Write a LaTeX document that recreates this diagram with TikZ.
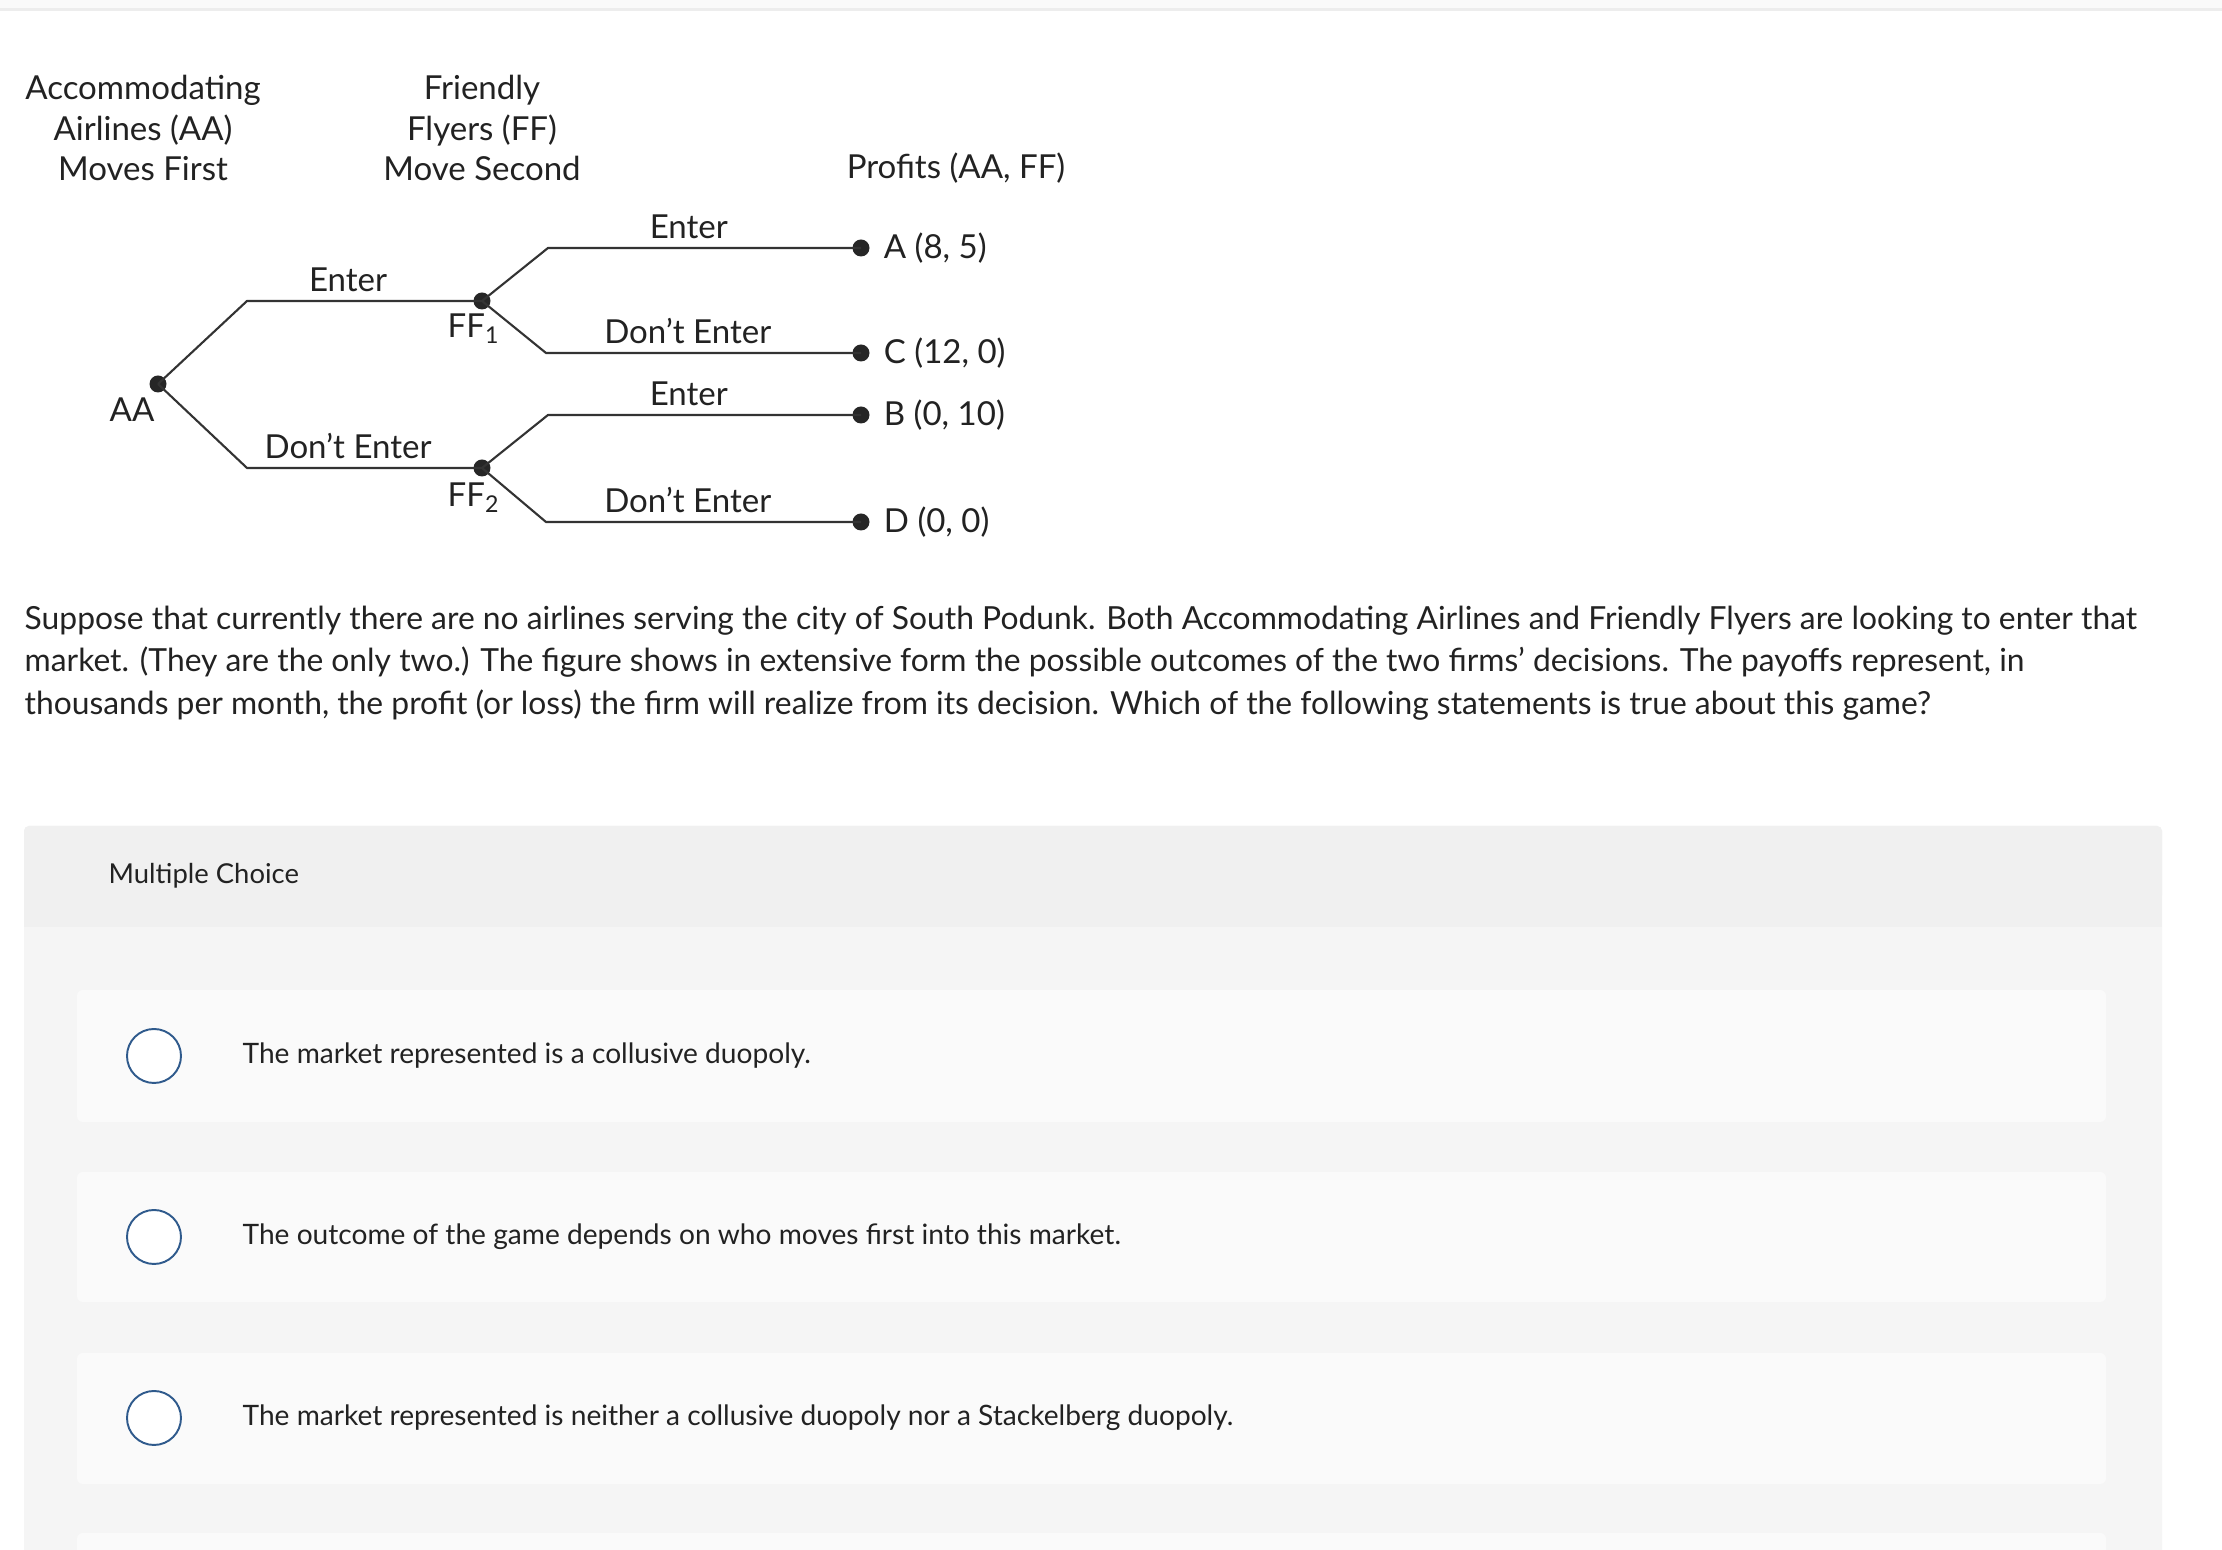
\documentclass[tikz,border=0pt]{standalone}
\usepackage{fontspec}
\setmainfont{Lato}
\usetikzlibrary{positioning, calc}

\definecolor{inkgray}{HTML}{333333}
\definecolor{textgray}{HTML}{222222}
\definecolor{radioblue}{HTML}{2F5A8C}
\definecolor{bandgray}{HTML}{FAFAFA}
\definecolor{rulegray}{HTML}{EDEDED}
\definecolor{headgray}{HTML}{F0F0F0}
\definecolor{panelgray}{HTML}{F5F5F5}
\definecolor{optgray}{HTML}{FAFAFA}

\begin{document}
\begin{tikzpicture}[
    x=0.1mm, y=-0.1mm,
    font=\fontsize{9.4}{11.4}\selectfont,
    text=textgray,
    % Styles
    branch/.style = {draw=inkgray, line width=0.6pt},
    dot/.style = {circle, fill=black!85, inner sep=0pt, minimum size=1.7mm},
    movelabel/.style = {above=0.8mm, inner sep=0pt},
    payoff/.style = {right=1.3mm, inner sep=0pt},
    heading/.style = {align=center, inner sep=0pt},
    radio/.style = {circle, draw=radioblue, line width=0.55pt, fill=white, minimum size=5.4mm, inner sep=0pt},
    choice/.style = {right=2.5mm, inner sep=0pt, font=\fontsize{8}{9.6}\selectfont}
]

% --- PAGE BACKGROUND ---
\useasboundingbox (0,0) rectangle (2222,1550);
\fill[white] (0,0) rectangle (2222,1550);
\fill[bandgray] (0,0) rectangle (2222,8);
\fill[rulegray] (0,8) rectangle (2222,11);

% --- HEADINGS ---
\node[heading] (aahead) at (143,128) {Accommodating\\Airlines (AA)\\Moves First};
\node[heading] (ffhead) at (482,128) {Friendly\\Flyers (FF)\\Move Second};
\node[heading] (profhead) at (956,168) {Profits (AA, FF)};

% --- GAME TREE ---
\node[dot] (aa) at (158,384) {};
\node[inner sep=0pt] (aalabel) at (132,410) {AA};

\coordinate (aaup) at (247,301);
\coordinate (aadown) at (247,468);
\node[dot] (ff1) at (482,301) {};
\node[dot] (ff2) at (482,468) {};
\node[inner sep=0pt] (ff1label) at (474,329) {FF\textsubscript{1}};
\node[inner sep=0pt] (ff2label) at (474,498) {FF\textsubscript{2}};

\draw[branch] (aa.center) -- (aaup) -- (ff1.center) node[movelabel, pos=0.43] {Enter};
\draw[branch] (aa.center) -- (aadown) -- (ff2.center) node[movelabel, pos=0.43] {Don’t Enter};

\coordinate (ff1up) at (548,248);
\coordinate (ff1down) at (546,353);
\coordinate (ff2up) at (548,415);
\coordinate (ff2down) at (546,522);
\node[dot] (endA) at (861,248) {};
\node[dot] (endC) at (861,353) {};
\node[dot] (endB) at (861,415) {};
\node[dot] (endD) at (861,522) {};

\draw[branch] (ff1.center) -- (ff1up) -- (endA.center) node[movelabel, pos=0.45] {Enter};
\draw[branch] (ff1.center) -- (ff1down) -- (endC.center) node[movelabel, pos=0.45] {Don’t Enter};
\draw[branch] (ff2.center) -- (ff2up) -- (endB.center) node[movelabel, pos=0.45] {Enter};
\draw[branch] (ff2.center) -- (ff2down) -- (endD.center) node[movelabel, pos=0.45] {Don’t Enter};

\node[payoff, right=1.3mm of endA] (payA) {A (8, 5)};
\node[payoff, right=1.3mm of endC] (payC) {C (12, 0)};
\node[payoff, right=1.3mm of endB] (payB) {B (0, 10)};
\node[payoff, right=1.3mm of endD] (payD) {D (0, 0)};

% --- QUESTION ---
\node[anchor=west, align=left, inner sep=0pt, font=\fontsize{9.05}{12.1}\selectfont] (question) at (24,663)
  {Suppose that currently there are no airlines serving the city of South Podunk. Both Accommodating Airlines and Friendly Flyers are looking to enter that\\
   market. (They are the only two.) The figure shows in extensive form the possible outcomes of the two firms’ decisions. The payoffs represent, in\\
   thousands per month, the profit (or loss) the firm will realize from its decision. Which of the following statements is true about this game?};

% --- MULTIPLE CHOICE PANEL ---
\fill[panelgray, rounded corners=0.5mm] (24,826) rectangle (2162,1560);
\fill[headgray, rounded corners=0.5mm] (24,826) rectangle (2162,900);
\fill[headgray] (24,880) rectangle (2162,927);
\node[anchor=west, inner sep=0pt, font=\fontsize{7.8}{9.5}\selectfont] (mchead) at (108,876) {Multiple Choice};

\fill[optgray, rounded corners=0.6mm] (77,990) rectangle (2106,1122);
\fill[optgray, rounded corners=0.6mm] (77,1172) rectangle (2106,1302);
\fill[optgray, rounded corners=0.6mm] (77,1353) rectangle (2106,1484);
\fill[optgray, rounded corners=0.6mm] (77,1533) rectangle (2106,1570);

\node[radio] (opt1) at (154,1056) {};
\node[radio] (opt2) at (154,1237) {};
\node[radio] (opt3) at (154,1418) {};
\node[choice, right=6mm of opt1] (text1) {The market represented is a collusive duopoly.};
\node[choice, right=6mm of opt2] (text2) {The outcome of the game depends on who moves first into this market.};
\node[choice, right=6mm of opt3] (text3) {The market represented is neither a collusive duopoly nor a Stackelberg duopoly.};

\end{tikzpicture}
\end{document}
